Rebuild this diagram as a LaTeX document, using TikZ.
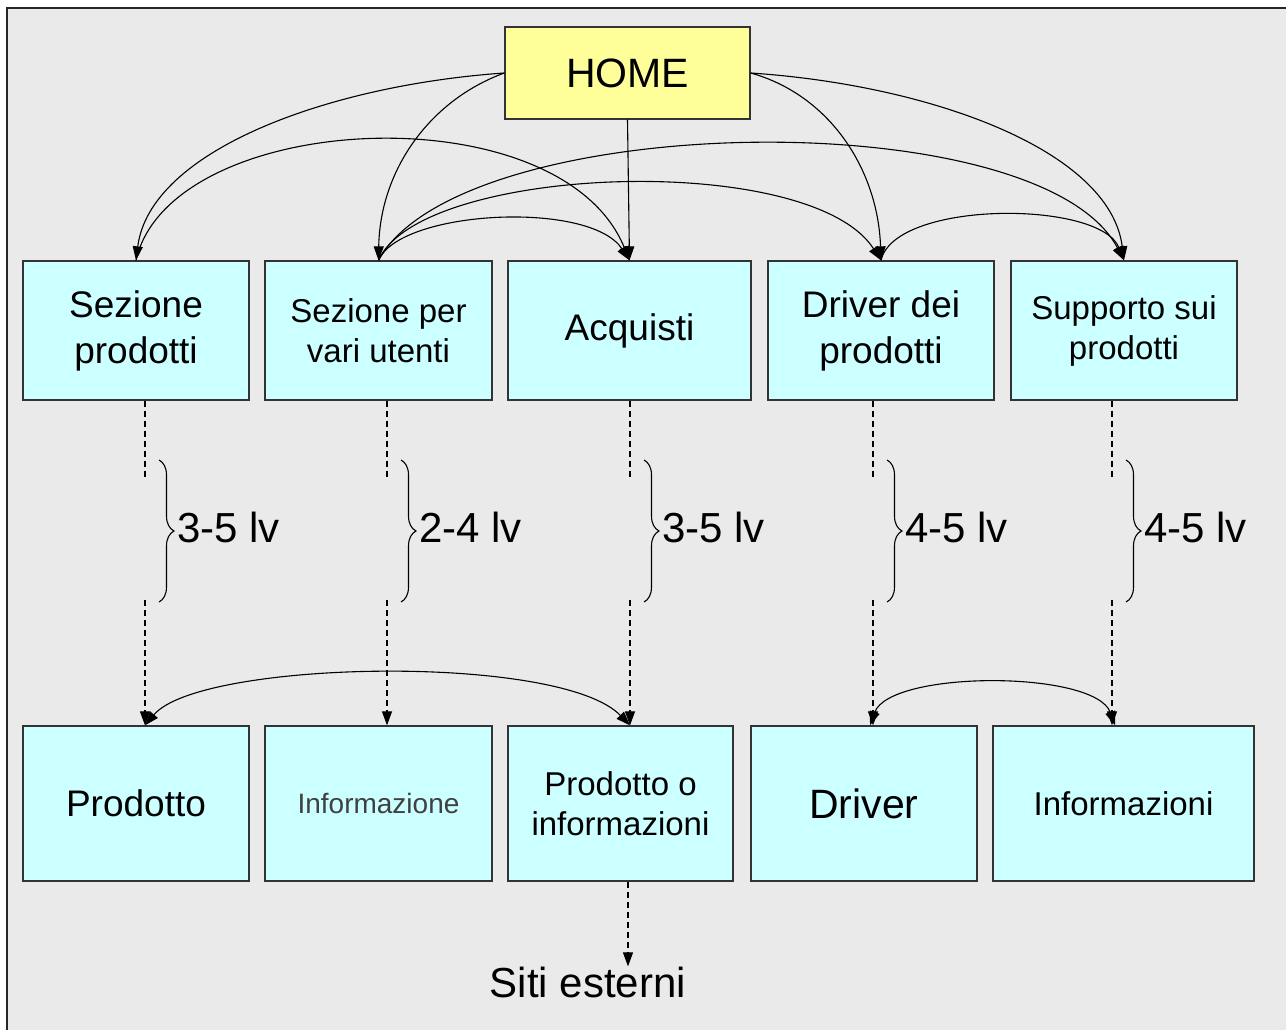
\documentclass[tikz,border=0pt]{standalone}
\usepackage{fontspec}
\setmainfont{Liberation Sans}
\usetikzlibrary{arrows.meta,decorations.pathreplacing}
\definecolor{panel}{HTML}{EAEAEA}
\definecolor{boxcyan}{HTML}{CCFFFF}
\definecolor{boxyellow}{HTML}{FFFF99}
\begin{document}
\begin{tikzpicture}[x=1pt,y=-1pt,
  box/.style={draw=black!80, line width=1.3pt, fill=boxcyan, inner sep=0pt, align=center},
  toprow/.style={box, minimum height=139pt},
  botrow/.style={box, minimum height=155pt},
  link/.style={line width=1.1pt, -{Triangle[length=14pt,width=10pt]}},
  biLink/.style={line width=1.1pt, {Triangle[length=14pt,width=10pt]}-{Triangle[length=14pt,width=10pt]}},
  dashline/.style={line width=1.1pt, dash pattern=on 6pt off 4pt},
  dasharrow/.style={dashline, -{Triangle[length=14pt,width=10pt]}},
  curly/.style={line width=1.1pt, decorate, decoration={brace, amplitude=15pt, aspect=0.5}},
  lvl/.style={anchor=west, inner sep=0pt, font=\fontsize{42}{48}\selectfont},
  big/.style={font=\fontsize{37}{46}\selectfont},
  mid/.style={font=\fontsize{33}{40}\selectfont}]

\useasboundingbox (0,0) rectangle (1286,1030);
\fill[white] (0,0) rectangle (1286,1030);
\draw[fill=panel, line width=2pt, draw=black!85] (7,8) rectangle (1300,1044);

% home page
\node[box, fill=boxyellow, minimum width=245pt, minimum height=92pt,
      font=\fontsize{41}{48}\selectfont] (home) at (627.5,73) {HOME};

% first level sections
\node[toprow, big, minimum width=226pt] (s1) at (136,330.5) {Sezione\\prodotti};
\node[toprow, mid, minimum width=227pt] (s2) at (378.5,330.5) {Sezione per\\vari utenti};
\node[toprow, big, minimum width=243pt] (s3) at (629.5,330.5) {Acquisti};
\node[toprow, big, minimum width=226pt] (s4) at (881,330.5) {Driver dei\\prodotti};
\node[toprow, mid, minimum width=226pt] (s5) at (1124,330.5) {Supporto sui\\prodotti};

% leaf pages
\node[botrow, big, minimum width=226pt] (p1) at (136,803.5) {Prodotto};
\node[botrow, minimum width=227pt, text=black!75, font=\fontsize{28}{34}\selectfont] (p2) at (378.5,803.5) {Informazione};
\node[botrow, mid, minimum width=225pt] (p3) at (620.5,803.5) {Prodotto o\\informazioni};
\node[botrow, minimum width=226pt, font=\fontsize{41}{48}\selectfont] (p4) at (864,803.5) {Driver};
\node[botrow, mid, minimum width=261pt] (p5) at (1123.5,803.5) {Informazioni};

\node[inner sep=0pt, font=\fontsize{42}{48}\selectfont] (ext) at (588,982) {Siti esterni};

% links from the home page
\draw[link] (home.west) .. controls (330,85) and (150,150) .. (s1.north);
\draw[link] (home.west) .. controls (430,100) and (380,170) .. (s2.north);
\draw[link] (home.south) -- (s3.north);
\draw[link] (home.east) .. controls (830,95) and (878,170) .. (s4.north);
\draw[link] (home.east) .. controls (930,85) and (1110,150) .. (s5.north);

% cross links between sections
\draw[link] (s1.north) .. controls (170,110) and (560,90) .. (s3.north);
\draw[link] (s2.north) .. controls (400,210) and (590,200) .. (s3.north);
\draw[link] (s2.north) .. controls (420,165) and (810,150) .. (s4.north);
\draw[link] (s2.north) .. controls (460,110) and (1040,100) .. (s5.north);
\draw[link] (s4.north) .. controls (895,200) and (1100,200) .. (s5.north);

% depth indicators: dashed paths interrupted by a brace
\foreach \i/\x/\lab in {1/145/3-5 lv, 2/387/2-4 lv, 3/630/3-5 lv, 4/873/4-5 lv, 5/1112/4-5 lv}{
  \coordinate (g\i a) at (\x,477);
  \coordinate (g\i b) at (\x,600);
  \coordinate (c\i a) at (\x+14,460);
  \coordinate (c\i b) at (\x+14,602);
  \draw[dashline] (g\i a |- s\i.south) -- (g\i a);
  \draw[dasharrow] (g\i b) -- (g\i b |- p\i.north);
  \draw[curly] (c\i a) -- (c\i b);
  \node[lvl] (l\i) at (\x+32,527) {\lab};
}

% links between leaf pages
\draw[biLink] (g1b |- p1.north) .. controls (200,660) and (560,653) .. (g3b |- p3.north);
\coordinate (q4) at (870,0);
\coordinate (q5) at (1115,0);
\draw[biLink] (q4 |- p4.north) .. controls (890,670) and (1095,670) .. (q5 |- p5.north);

% exit to external sites
\coordinate (x3) at (628,0);
\draw[dasharrow] (x3 |- p3.south) -- (x3 |- ext.north);
\end{tikzpicture}
\end{document}
